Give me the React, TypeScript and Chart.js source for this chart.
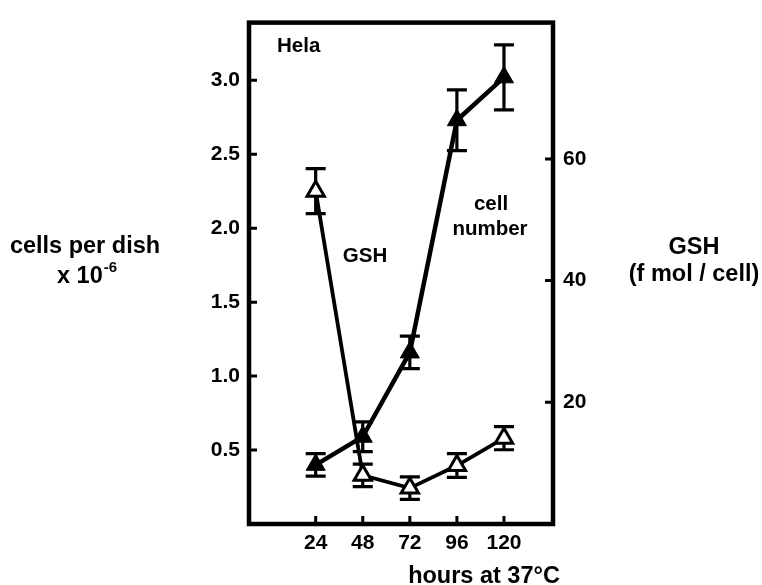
import React, { useEffect, useRef } from "react";
import { Chart, registerables } from "chart.js";

Chart.register(...registerables);

// ---- data ----
const hours = [24, 48, 72, 96, 120];
const cellNumber = [0.4, 0.59, 1.16, 2.73, 3.02];
const cellNumberErr = [0.076, 0.1, 0.11, 0.205, 0.22];
const gsh = [54.7, 8.0, 5.9, 9.6, 14.1];
const gshErr = [3.7, 1.85, 1.85, 1.95, 1.9];
const xTicks = [24, 48, 72, 96, 120];
const leftTicks = [0.5, 1.0, 1.5, 2.0, 2.5, 3.0];
const rightTicks = [20, 40, 60];

const FONT = "'Liberation Sans', Arial, Helvetica, sans-serif";

const errorBarPlugin = {
  id: "errorBars",
  beforeDatasetsDraw(chart: any) {
    const ctx = chart.ctx;
    const xs = chart.scales.x;
    const sets = [
      { scale: chart.scales.y, vals: cellNumber, errs: cellNumberErr },
      { scale: chart.scales.y1, vals: gsh, errs: gshErr },
    ];
    ctx.save();
    ctx.strokeStyle = "#000";
    ctx.lineWidth = 3.2;
    ctx.lineCap = "butt";
    for (const s of sets) {
      s.vals.forEach((v, i) => {
        const x = xs.getPixelForValue(hours[i]);
        const yt = s.scale.getPixelForValue(v + s.errs[i]);
        const yb = s.scale.getPixelForValue(v - s.errs[i]);
        ctx.beginPath();
        ctx.moveTo(x, yt);
        ctx.lineTo(x, yb);
        ctx.moveTo(x - 10, yt);
        ctx.lineTo(x + 10, yt);
        ctx.moveTo(x - 10, yb);
        ctx.lineTo(x + 10, yb);
        ctx.stroke();
      });
    }
    ctx.restore();
  },
};

const framePlugin = {
  id: "frame",
  afterDraw(chart: any) {
    const ctx = chart.ctx;
    const a = chart.chartArea;
    ctx.save();
    ctx.strokeStyle = "#000";
    ctx.lineWidth = 4.5;
    ctx.strokeRect(a.left, a.top, a.right - a.left, a.bottom - a.top);
    ctx.lineWidth = 3;
    const tl = 8;
    ctx.beginPath();
    for (const t of chart.scales.x.ticks) {
      const x = chart.scales.x.getPixelForValue(t.value);
      ctx.moveTo(x, a.bottom);
      ctx.lineTo(x, a.bottom - tl);
    }
    for (const t of chart.scales.y.ticks) {
      const y = chart.scales.y.getPixelForValue(t.value);
      ctx.moveTo(a.left, y);
      ctx.lineTo(a.left + tl, y);
    }
    for (const t of chart.scales.y1.ticks) {
      const y = chart.scales.y1.getPixelForValue(t.value);
      ctx.moveTo(a.right, y);
      ctx.lineTo(a.right - tl, y);
    }
    ctx.stroke();

    // texts
    ctx.fillStyle = "#000";
    ctx.textBaseline = "alphabetic";
    ctx.font = `bold 20.5px ${FONT}`;
    ctx.textAlign = "left";
    ctx.fillText("Hela", 277, 52);
    ctx.textAlign = "center";
    ctx.fillText("GSH", 365, 262);
    ctx.fillText("cell", 491, 210);
    ctx.fillText("number", 490, 235);

    ctx.font = `bold 23.5px ${FONT}`;
    ctx.fillText("cells per dish", 85, 253);
    ctx.fillText("GSH", 694, 254);
    ctx.fillText("(f mol / cell)", 694, 281);
    ctx.fillText("hours at 37°C", 484, 583);

    // x 10^-6
    const base = "x 10";
    const sup = "-6";
    ctx.font = `bold 23.5px ${FONT}`;
    const wb = ctx.measureText(base).width;
    ctx.font = `bold 15px ${FONT}`;
    const ws = ctx.measureText(sup).width;
    const start = 87 - (wb + ws + 1) / 2;
    ctx.textAlign = "left";
    ctx.font = `bold 23.5px ${FONT}`;
    ctx.fillText(base, start, 283);
    ctx.font = `bold 15px ${FONT}`;
    ctx.fillText(sup, start + wb + 1, 272);
    ctx.restore();
  },
};

export default function App() {
  const ref = useRef<HTMLCanvasElement>(null);

  useEffect(() => {
    document.body.style.margin = "0";
    const tickFont = { family: FONT, size: 21, weight: "bold" as const };
    const chart = new Chart(ref.current as HTMLCanvasElement, {
      type: "line",
      data: {
        datasets: [
          {
            label: "cell number",
            data: hours.map((h, i) => ({ x: h, y: cellNumber[i] })),
            yAxisID: "y",
            borderColor: "#000",
            borderWidth: 4.5,
            pointStyle: "triangle",
            pointRadius: 11,
            pointBackgroundColor: "#000",
            pointBorderColor: "#000",
            pointBorderWidth: 1,
            tension: 0,
          },
          {
            label: "GSH",
            data: hours.map((h, i) => ({ x: h, y: gsh[i] })),
            yAxisID: "y1",
            borderColor: "#000",
            borderWidth: 3.8,
            pointStyle: "triangle",
            pointRadius: 10,
            pointBackgroundColor: "#fff",
            pointBorderColor: "#000",
            pointBorderWidth: 3,
            tension: 0,
          },
        ],
      },
      options: {
        animation: false,
        responsive: false,
        devicePixelRatio: 1,
        layout: { padding: { top: 13, left: 0, right: 0, bottom: 0 } },
        plugins: { legend: { display: false }, tooltip: { enabled: false } },
        scales: {
          x: {
            type: "linear",
            position: "bottom",
            min: -10,
            max: 145,
            grid: { display: false, drawTicks: false },
            border: { display: false },
            ticks: { font: tickFont, color: "#000", padding: 7 },
            afterBuildTicks: (s: any) => {
              s.ticks = xTicks.map((v) => ({ value: v }));
            },
            afterFit: (s: any) => {
              s.height = 61;
            },
          },
          y: {
            type: "linear",
            position: "left",
            min: 0,
            max: 3.39,
            grid: { display: false, drawTicks: false },
            border: { display: false },
            ticks: {
              font: tickFont,
              color: "#000",
              padding: 9,
              callback: (v: any) => Number(v).toFixed(1),
            },
            afterBuildTicks: (s: any) => {
              s.ticks = leftTicks.map((v) => ({ value: v }));
            },
            afterFit: (s: any) => {
              s.width = 249;
            },
          },
          y1: {
            type: "linear",
            position: "right",
            min: 0,
            max: 82.4,
            grid: { display: false, drawTicks: false },
            border: { display: false },
            ticks: { font: tickFont, color: "#000", padding: 10 },
            afterBuildTicks: (s: any) => {
              s.ticks = rightTicks.map((v) => ({ value: v }));
            },
            afterFit: (s: any) => {
              s.width = 209;
            },
          },
        },
      },
      plugins: [errorBarPlugin, framePlugin],
    });
    return () => chart.destroy();
  }, []);

  return (
    <div style={{ position: "absolute", left: 0, top: 0, width: 762, height: 585, background: "#fff" }}>
      <canvas ref={ref} width={762} height={585} />
    </div>
  );
}
